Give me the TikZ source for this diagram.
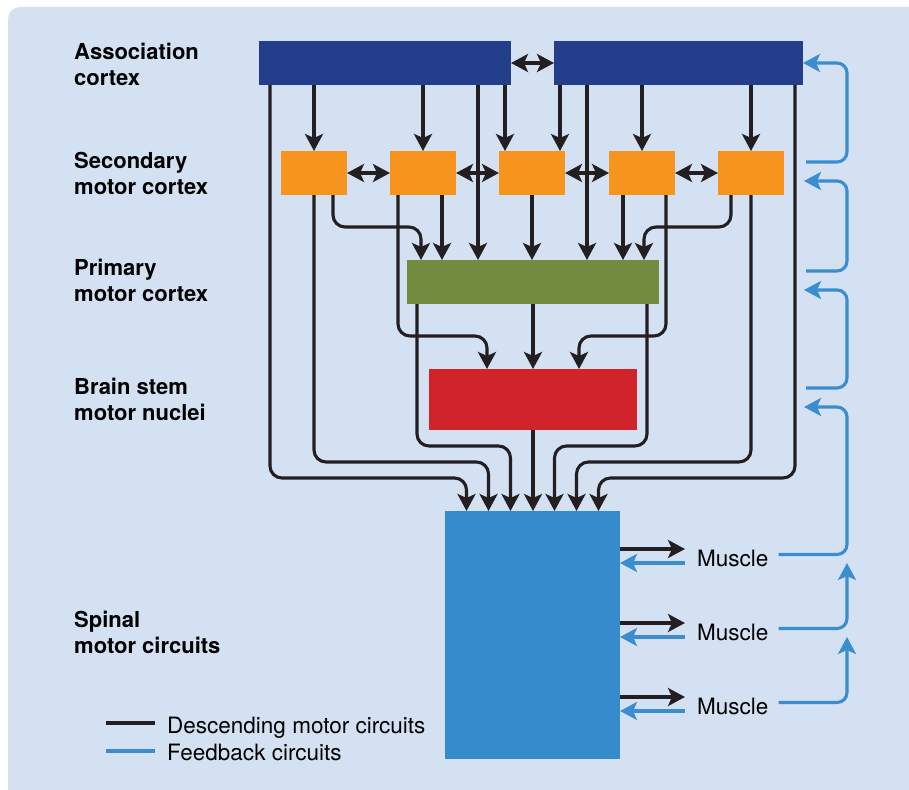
\documentclass[tikz,border=0pt]{standalone}
\usepackage{fontspec}
\setmainfont{TeX Gyre Heros}
\usetikzlibrary{arrows.meta,calc}
\definecolor{panelbg}{HTML}{D3E1F2}
\definecolor{inkblk}{HTML}{231F20}
\definecolor{assocblue}{HTML}{233E8B}
\definecolor{secorange}{HTML}{F7941E}
\definecolor{primgreen}{HTML}{728B3F}
\definecolor{stemred}{HTML}{D1232A}
\definecolor{spinalblue}{HTML}{358BCB}
\definecolor{fbblue}{HTML}{3A8DD0}

\begin{document}
\begin{tikzpicture}[x=1pt, y=-1pt,
  >={Stealth[length=17pt, width=18pt, inset=4pt]},
  region/.style={inner sep=0pt, outer sep=0pt},
  secbox/.style={region, fill=secorange, minimum width=66pt, minimum height=44pt},
  lvl/.style={anchor=north west, inner sep=0pt, align=left, font=\bfseries\fontsize{22}{26.3}\selectfont},
  muscle/.style={anchor=west, inner sep=0pt, font=\fontsize{22.5}{27}\selectfont},
  dn/.style={draw=inkblk, line width=3.1pt, ->},
  fb/.style={draw=fbblue, line width=3.1pt, ->, rounded corners=10pt}]
  \useasboundingbox (0,0) rectangle (909,789);
  \clip (0,0) rectangle (909,789);
  \fill[panelbg, rounded corners=12pt] (8,7) rectangle (940,820);

  % level names
  \node[lvl] (lbAssoc) at (74,43) {Association\\cortex};
  \node[lvl] (lbSec) at (74,152) {Secondary\\motor cortex};
  \node[lvl] (lbPrim) at (74,259) {Primary\\motor cortex};
  \node[lvl] (lbStem) at (74,378) {Brain stem\\motor nuclei};
  \node[lvl] (lbSpinal) at (74,611) {Spinal\\motor circuits};

  % areas
  \node[region, fill=assocblue, minimum width=252pt, minimum height=44pt] (assocL) at (385,63) {};
  \node[region, fill=assocblue, minimum width=249pt, minimum height=44pt] (assocR) at (678.5,63) {};
  \foreach \i/\x in {1/314,2/423,3/532,4/642,5/751}
    \node[secbox] (sec\i) at (\x,173) {};
  \node[region, fill=primgreen, minimum width=252pt, minimum height=44pt] (prim) at (533,282) {};
  \node[region, fill=stemred, minimum width=208pt, minimum height=61pt] (stem) at (533,399.5) {};
  \node[region, fill=spinalblue, minimum width=175pt, minimum height=248pt] (spinal) at (532.5,635) {};
  \foreach \i/\y in {1/558,2/632,3/706}
    \node[muscle] (m\i) at (697,\y) {Muscle};

  % lateral links
  \draw[dn, <->] (assocL) -- (assocR);
  \foreach \a/\b in {1/2,2/3,3/4,4/5}
    \draw[dn, <->] (sec\a) -- (sec\b);

  % association -> secondary
  \draw[dn] (assocL.south -| sec1) -- (sec1.north);
  \draw[dn] (assocL.south -| sec2) -- (sec2.north);
  \draw[dn] ($(assocL.south -| sec3.north west)+(6,0)$) -- ([xshift=6pt]sec3.north west);
  \draw[dn] ($(assocR.south -| sec3.north east)+(-5,0)$) -- ([xshift=-5pt]sec3.north east);
  \draw[dn] (assocR.south -| sec4) -- (sec4.north);
  \draw[dn] (assocR.south -| sec5) -- (sec5.north);

  % association -> primary
  \draw[dn] ([xshift=-33pt]assocL.south east) -- ([xshift=71pt]prim.north west);
  \draw[dn] ([xshift=33pt]assocR.south west) -- ([xshift=180pt]prim.north west);

  % secondary -> primary
  \draw[dn, rounded corners=12pt] ([xshift=-14pt]sec1.south east) |- ($(prim.north west)+(14,-33)$) -- ([xshift=14pt]prim.north west);
  \draw[dn] ([xshift=-14pt]sec2.south east) -- ([xshift=35pt]prim.north west);
  \draw[dn] (sec3.south) -- (sec3.south |- prim.north);
  \draw[dn] ([xshift=14pt]sec4.south west) -- ([xshift=-36pt]prim.north east);
  \draw[dn, rounded corners=12pt] ([xshift=13pt]sec5.south west) |- ($(prim.north east)+(-15,-33)$) -- ([xshift=-15pt]prim.north east);

  % secondary -> brain stem
  \draw[dn, rounded corners=12pt] ([xshift=8pt]sec2.south west) |- ($(stem.north west)+(58,-33)$) -- ([xshift=58pt]stem.north west);
  \draw[dn, rounded corners=12pt] ([xshift=-9pt]sec4.south east) |- ($(stem.north east)+(-58,-33)$) -- ([xshift=-58pt]stem.north east);

  % primary -> brain stem
  \draw[dn] (prim.south) -- (stem.north);

  % to spinal
  \draw[dn, rounded corners=12pt] ([xshift=11pt]assocL.south west) |- ($(spinal.north)+(-66,-33)$) -- ([xshift=-66pt]spinal.north);
  \draw[dn, rounded corners=12pt] (sec1.south) |- ($(spinal.north)+(-44,-49)$) -- ([xshift=-44pt]spinal.north);
  \draw[dn, rounded corners=12pt] ([xshift=10pt]prim.south west) |- ($(spinal.north)+(-22,-65)$) -- ([xshift=-22pt]spinal.north);
  \draw[dn] (stem.south) -- (stem.south |- spinal.north);
  \draw[dn, rounded corners=12pt] ([xshift=-12pt]prim.south east) |- ($(spinal.north)+(22,-65)$) -- ([xshift=22pt]spinal.north);
  \draw[dn, rounded corners=12pt] (sec5.south) |- ($(spinal.north)+(44,-49)$) -- ([xshift=44pt]spinal.north);
  \draw[dn, rounded corners=12pt] ([xshift=-8pt]assocR.south east) |- ($(spinal.north)+(66,-33)$) -- ([xshift=66pt]spinal.north);

  % spinal <-> muscles
  \foreach \i in {1,2,3} {
    \draw[dn] ($(spinal.east |- m\i.west)+(0,-9)$) -- ($(m\i.west)+(-12,-9)$);
    \draw[fb] ($(m\i.west)+(-12,5)$) -- ($(spinal.east |- m\i.west)+(0,5)$);
  }

  % feedback loops
  \coordinate (fbx) at (847,0);
  \coordinate (inSec) at (804,181);
  \coordinate (inPrim) at (804,290);
  \coordinate (inStem) at (804,407);
  \coordinate (outSec) at (806,162);
  \coordinate (outPrim) at (806,271);
  \coordinate (outStem) at (806,388);
  \draw[fb] (outSec) -| (fbx |- assocR.east) -- (assocR.east);
  \draw[fb] (outPrim) -| (fbx |- inSec) -- (inSec);
  \draw[fb] (outStem) -| (fbx |- inPrim) -- (inPrim);
  \draw[fb] ($(m1.east)+(10,-3.5)$) -| (fbx |- inStem) -- (inStem);
  \draw[fb] ($(m2.east)+(10,-3.5)$) -| ($(fbx |- m1.west)+(0,5)$);
  \draw[fb] ($(m3.east)+(10,-3.5)$) -| ($(fbx |- m2.west)+(0,5)$);

  % legend
  \node[anchor=base west, inner sep=0pt, font=\fontsize{22.5}{27}\selectfont] (lgDesc) at (167,733) {Descending motor circuits};
  \node[anchor=base west, inner sep=0pt, font=\fontsize{22.5}{27}\selectfont] (lgFb) at (167,760) {Feedback circuits};
  \draw[inkblk, line width=3.1pt] ($(lgDesc.base west)+(-61,-10)$) -- ++(49,0);
  \draw[fbblue, line width=3.1pt] ($(lgFb.base west)+(-61,-9)$) -- ++(49,0);
\end{tikzpicture}
\end{document}
